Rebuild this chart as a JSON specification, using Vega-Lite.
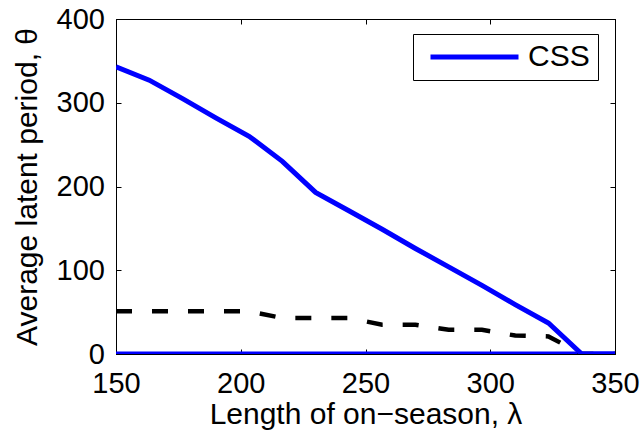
{
  "$schema": "https://vega.github.io/schema/vega-lite/v6.json",
  "width": 499,
  "height": 335,
  "autosize": {"type": "none"},
  "padding": {"left": 116, "top": 19, "right": 26, "bottom": 83},
  "background": "white",
  "config": {
    "font": "Liberation Sans",
    "view": {"stroke": "black", "strokeWidth": 1},
    "axis": {
      "grid": false,
      "domainColor": "black",
      "domainWidth": 1,
      "tickColor": "black",
      "tickWidth": 1,
      "tickSize": -5,
      "labelFlush": false,
      "labelFont": "Liberation Sans",
      "labelFontSize": 29,
      "labelColor": "black",
      "titleFont": "Liberation Sans",
      "titleFontSize": 30,
      "titleFontWeight": "normal",
      "titleColor": "black",
      "zindex": 1
    },
    "legend": {
      "labelFont": "Liberation Sans",
      "labelFontSize": 30,
      "labelColor": "black"
    }
  },
  "datasets": {
    "css": [
      {"lambda": 150, "theta": 343},
      {"lambda": 163.33, "theta": 327},
      {"lambda": 176.67, "theta": 305},
      {"lambda": 190, "theta": 282},
      {"lambda": 203.33, "theta": 260},
      {"lambda": 216.67, "theta": 230},
      {"lambda": 230, "theta": 193},
      {"lambda": 243.33, "theta": 171},
      {"lambda": 256.67, "theta": 149},
      {"lambda": 270, "theta": 126},
      {"lambda": 283.33, "theta": 104},
      {"lambda": 296.67, "theta": 82},
      {"lambda": 310, "theta": 59},
      {"lambda": 323.33, "theta": 37},
      {"lambda": 336.67, "theta": 0},
      {"lambda": 350, "theta": 0}
    ],
    "dashed": [
      {"lambda": 150, "theta": 51},
      {"lambda": 163.33, "theta": 51},
      {"lambda": 176.67, "theta": 51},
      {"lambda": 190, "theta": 51},
      {"lambda": 203.33, "theta": 51},
      {"lambda": 216.67, "theta": 43},
      {"lambda": 230, "theta": 43},
      {"lambda": 243.33, "theta": 43},
      {"lambda": 256.67, "theta": 35},
      {"lambda": 270, "theta": 35},
      {"lambda": 283.33, "theta": 29},
      {"lambda": 296.67, "theta": 29},
      {"lambda": 310, "theta": 22},
      {"lambda": 323.33, "theta": 21},
      {"lambda": 336.67, "theta": 0},
      {"lambda": 350, "theta": 0}
    ],
    "zero": [
      {"lambda": 150, "theta": 0},
      {"lambda": 350, "theta": 0}
    ]
  },
  "layer": [
    {
      "data": {"name": "zero"},
      "mark": {"type": "line", "color": "#0000ff", "strokeWidth": 5, "clip": true},
      "encoding": {
        "x": {
          "field": "lambda", "type": "quantitative",
          "scale": {"domain": [150, 350], "nice": false, "zero": false},
          "axis": {"orient": "bottom", "values": [150, 200, 250, 300, 350], "title": "Length of on−season, λ", "labelPadding": 20.5, "titlePadding": 1}
        },
        "y": {
          "field": "theta", "type": "quantitative",
          "scale": {"domain": [0, 400], "nice": false},
          "axis": {"orient": "left", "values": [0, 100, 200, 300, 400], "title": "Average latent period, θ", "labelPadding": 16.5, "titlePadding": 14}
        }
      }
    },
    {
      "data": {"name": "dashed"},
      "mark": {"type": "line", "color": "black", "strokeWidth": 4.5, "strokeDash": [16, 20], "strokeCap": "butt", "clip": true},
      "encoding": {
        "x": {
          "field": "lambda", "type": "quantitative",
          "axis": {"orient": "top", "values": [150, 200, 250, 300, 350], "labels": false, "title": null}
        },
        "y": {
          "field": "theta", "type": "quantitative",
          "axis": {"orient": "right", "values": [0, 100, 200, 300, 400], "labels": false, "title": null}
        }
      }
    },
    {
      "data": {"name": "css"},
      "mark": {"type": "line", "strokeWidth": 5, "clip": true},
      "encoding": {
        "x": {"field": "lambda", "type": "quantitative", "axis": null},
        "y": {"field": "theta", "type": "quantitative", "axis": null},
        "color": {
          "datum": "CSS",
          "type": "nominal",
          "scale": {"domain": ["CSS"], "range": ["#0000ff"]},
          "legend": {
            "title": null,
            "orient": "none",
            "legendX": 297,
            "legendY": 15,
            "padding": 8,
            "strokeColor": "black",
            "fillColor": "white",
            "symbolType": "M-4.4,0H4.4",
            "symbolSize": 400,
            "symbolStrokeWidth": 5,
            "symbolOffset": 38.5,
            "labelOffset": 38.5
          }
        }
      }
    }
  ],
  "resolve": {"axis": {"x": "independent", "y": "independent"}}
}
